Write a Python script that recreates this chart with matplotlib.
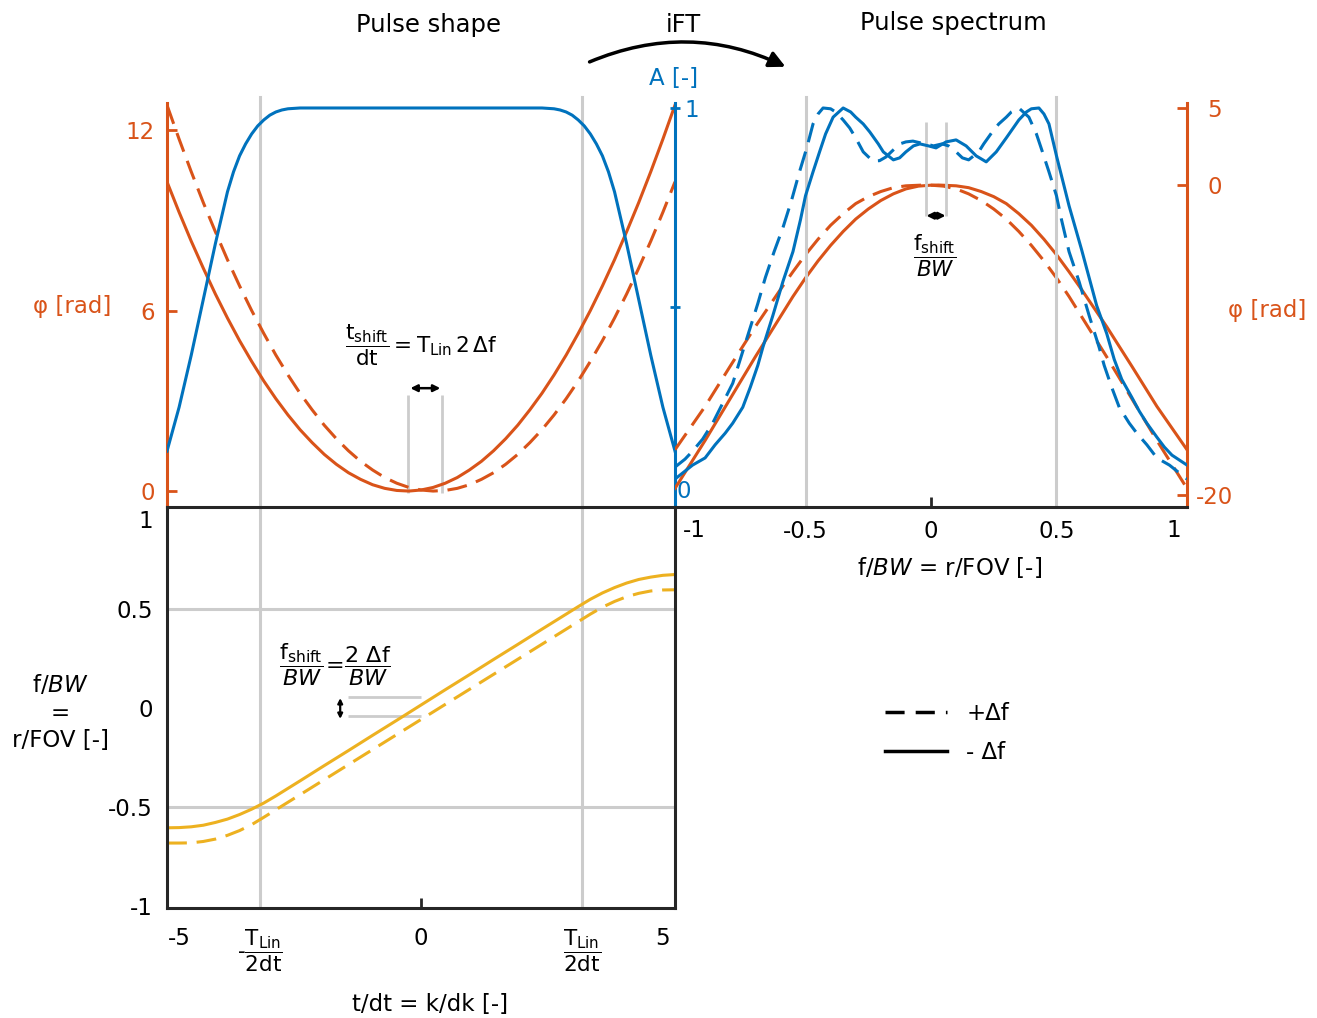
"""Chirp pulse: shape, spectrum and instantaneous frequency."""
import matplotlib
matplotlib.use("Agg")
import matplotlib.pyplot as plt
from matplotlib.lines import Line2D
from matplotlib.patches import FancyArrowPatch

plt.rcParams["font.family"] = ["DejaVu Sans"]
plt.rcParams["axes.unicode_minus"] = False
plt.rcParams["mathtext.fontset"] = "dejavusans"

BLUE, ORANGE, YELLOW = "#0072BD", "#D95319", "#EDB120"
GRAY, DARK = "#CCCCCC", "#262626"
DASH = (0, (6.5, 3.2))
LW = 2.2
FS = 16.5      # tick labels / axis labels
FS_EQ = 15.5   # fraction annotations
FS_T = 17.5    # titles

# ---- pulse shape (t/dt) ----
t_amp = [-5.25, -5.125, -5.0, -4.875, -4.75, -4.625, -4.5, -4.375, -4.25, -4.125, -4.0,
         -3.875, -3.75, -3.625, -3.5, -3.375, -3.25, -3.125, -3.0, -2.875, -2.75, -2.5,
         2.5, 2.75, 2.875, 3.0, 3.125, 3.25, 3.375, 3.5, 3.625, 3.75, 3.875, 4.0,
         4.125, 4.25, 4.375, 4.5, 4.625, 4.75, 4.875, 5.0, 5.125, 5.25]
amp = [0.14, 0.195, 0.25, 0.315, 0.38, 0.45, 0.52, 0.59, 0.66, 0.725, 0.79,
       0.84, 0.88, 0.91, 0.935, 0.955, 0.97, 0.982, 0.99, 0.995, 0.998, 1.0,
       1.0, 0.998, 0.995, 0.99, 0.982, 0.97, 0.955, 0.935, 0.91, 0.88, 0.84, 0.79,
       0.725, 0.66, 0.59, 0.52, 0.45, 0.38, 0.315, 0.25, 0.195, 0.14]
t_ph = [-5.25, -5.0, -4.75, -4.5, -4.25, -4.0, -3.75, -3.5, -3.25, -3.0, -2.75,
        -2.5, -2.25, -2.0, -1.75, -1.5, -1.25, -1.0, -0.75, -0.5, -0.25, 0.0,
        0.25, 0.5, 0.75, 1.0, 1.25, 1.5, 1.75, 2.0, 2.25, 2.5, 2.75, 3.0,
        3.25, 3.5, 3.75, 4.0, 4.25, 4.5, 4.75, 5.0, 5.25]
phase_minus = [10.28, 9.27, 8.31, 7.41, 6.55, 5.75, 5.00, 4.31, 3.66, 3.07, 2.53,
               2.04, 1.61, 1.22, 0.89, 0.61, 0.39, 0.21, 0.09, 0.02, 0.0, 0.035,
               0.12, 0.26, 0.45, 0.70, 0.99, 1.34, 1.74, 2.19, 2.70, 3.25, 3.86, 4.52,
               5.24, 6.00, 6.82, 7.69, 8.62, 9.59, 10.62, 11.70, 12.83]
phase_plus = [12.83, 11.70, 10.62, 9.59, 8.62, 7.69, 6.82, 6.00, 5.24, 4.52, 3.86,
              3.25, 2.70, 2.19, 1.74, 1.34, 0.99, 0.70, 0.45, 0.26, 0.12, 0.035,
              0.0, 0.02, 0.09, 0.21, 0.39, 0.61, 0.89, 1.22, 1.61, 2.04, 2.53, 3.07,
              3.66, 4.31, 5.00, 5.75, 6.55, 7.41, 8.31, 9.27, 10.28]
t_lin_half = 3.33            # T_Lin / (2 dt)
t_shift_marks = [-0.27, 0.43]

# ---- instantaneous frequency (f/BW) ----
t_freq = [-5.25, -5.0, -4.75, -4.5, -4.25, -4.0, -3.75, -3.5, -3.25, -3.0, -2.75, -2.5,
          -2.0, -1.5, -1.0, -0.5, 0.0, 0.5, 1.0, 1.5, 2.0, 2.5, 2.75, 3.0, 3.25,
          3.5, 3.75, 4.0, 4.25, 4.5, 4.75, 5.0, 5.25]
freq_minus = [-0.605, -0.604, -0.600, -0.592, -0.578, -0.561, -0.538, -0.511, -0.480, -0.444,
              -0.406, -0.368, -0.291, -0.215, -0.138, -0.062, 0.015, 0.092, 0.168, 0.245,
              0.321, 0.398, 0.436, 0.474, 0.512, 0.549, 0.581, 0.608, 0.631, 0.649,
              0.661, 0.670, 0.674]
freq_plus = [-0.682, -0.682, -0.681, -0.674, -0.662, -0.643, -0.619, -0.589, -0.552, -0.514,
             -0.476, -0.438, -0.362, -0.286, -0.21, -0.134, -0.058, 0.018, 0.094, 0.17,
             0.246, 0.322, 0.36, 0.398, 0.436, 0.474, 0.509, 0.538, 0.562, 0.579,
             0.591, 0.596, 0.597]
f_shift_marks = [0.056, -0.04]

# ---- pulse spectrum (f/BW) ----
f_amp_minus = [-1.02, -0.98, -0.95, -0.90, -0.86, -0.82, -0.79, -0.75, -0.72, -0.69,
               -0.67, -0.63, -0.59, -0.55, -0.52, -0.50, -0.47, -0.444, -0.42, -0.39,
               -0.35, -0.32, -0.30, -0.27, -0.244, -0.21, -0.19, -0.15, -0.125, -0.10,
               -0.07, -0.044, -0.01, 0.02, 0.06, 0.10, 0.14, 0.18, 0.22, 0.26,
               0.30, 0.35, 0.38, 0.40, 0.43, 0.45, 0.47, 0.50, 0.55, 0.60,
               0.63, 0.66, 0.70, 0.73, 0.76, 0.80, 0.83, 0.86, 0.90, 0.93, 0.96, 1.02]
amp_minus = [0.07, 0.09, 0.105, 0.123, 0.156, 0.185, 0.21, 0.25, 0.30, 0.355,
             0.40, 0.48, 0.565, 0.64, 0.72, 0.78, 0.84, 0.89, 0.935, 0.977,
             1.0, 0.99, 0.977, 0.96, 0.94, 0.91, 0.89, 0.87, 0.875, 0.89,
             0.905, 0.91, 0.905, 0.90, 0.915, 0.92, 0.905, 0.88, 0.865, 0.89,
             0.925, 0.97, 0.99, 0.998, 1.0, 0.985, 0.96, 0.88, 0.755, 0.645,
             0.575, 0.505, 0.435, 0.37, 0.32, 0.275, 0.24, 0.21, 0.175, 0.15, 0.13, 0.105]
f_amp_plus = [-1.02, -0.98, -0.95, -0.91, -0.87, -0.83, -0.79, -0.755, -0.72, -0.69,
              -0.66, -0.625, -0.59, -0.555, -0.524, -0.495, -0.47, -0.45, -0.43, -0.40,
              -0.38, -0.35, -0.324, -0.30, -0.27, -0.232, -0.205, -0.18, -0.15, -0.124,
              -0.10, -0.072, -0.045, -0.02, 0.01, 0.044, 0.07, 0.10, 0.125, 0.15,
              0.19, 0.21, 0.244, 0.27, 0.30, 0.32, 0.35, 0.39, 0.42, 0.444,
              0.47, 0.50, 0.52, 0.55, 0.59, 0.63, 0.67, 0.69, 0.72, 0.75,
              0.79, 0.82, 0.86, 0.90, 0.95, 0.98, 1.02]
amp_plus = [0.10, 0.12, 0.14, 0.17, 0.21, 0.26, 0.31, 0.38, 0.45, 0.51,
            0.575, 0.64, 0.70, 0.77, 0.84, 0.90, 0.96, 0.985, 1.0, 0.998,
            0.99, 0.97, 0.95, 0.925, 0.89, 0.867, 0.868, 0.877, 0.895, 0.91,
            0.915, 0.917, 0.913, 0.91, 0.905, 0.91, 0.905, 0.89, 0.875, 0.87,
            0.89, 0.91, 0.94, 0.96, 0.977, 0.99, 1.0, 0.977, 0.935, 0.89,
            0.84, 0.78, 0.72, 0.64, 0.565, 0.48, 0.40, 0.355, 0.30, 0.25,
            0.21, 0.185, 0.156, 0.123, 0.105, 0.09, 0.07]
f_ph_minus = [-1.02, -0.9, -0.8, -0.7, -0.6, -0.55, -0.5, -0.45, -0.4, -0.35, -0.3,
              -0.25, -0.2, -0.15, -0.1, -0.05, 0.0, 0.03, 0.1, 0.15, 0.2, 0.25,
              0.3, 0.35, 0.4, 0.45, 0.5, 0.55, 0.6, 0.7, 0.8, 0.9, 1.02]
spec_phase_minus = [-19.6, -16.5, -13.8, -11.1, -8.5, -7.2, -6.0, -4.9, -3.9, -3.0, -2.2,
                    -1.55, -1.0, -0.57, -0.25, -0.07, -0.01, 0.0, -0.05, -0.17, -0.42, -0.75,
                    -1.2, -1.85, -2.6, -3.5, -4.5, -5.6, -6.75, -9.15, -11.7, -14.3, -17.1]
f_ph_plus = [-1.02, -0.9, -0.8, -0.7, -0.6, -0.55, -0.5, -0.45, -0.4, -0.35, -0.3,
             -0.25, -0.2, -0.15, -0.1, -0.03, 0.0, 0.05, 0.1, 0.15, 0.2, 0.25,
             0.3, 0.35, 0.4, 0.45, 0.5, 0.55, 0.6, 0.7, 0.8, 0.9, 1.02]
spec_phase_plus = [-17.1, -14.3, -11.7, -9.15, -6.75, -5.6, -4.5, -3.5, -2.6, -1.85, -1.2,
                   -0.75, -0.42, -0.17, -0.05, 0.0, -0.01, -0.07, -0.25, -0.57, -1.0, -1.55,
                   -2.2, -3.0, -3.9, -4.9, -6.0, -7.2, -8.5, -11.1, -13.8, -16.5, -19.6]
f_shift_spec = [-0.02, 0.06]

W, H = 1317, 1018
fig = plt.figure(figsize=(W / 100, H / 100), dpi=100)


def box(x0, y0, x1, y1):
    return [x0 / W, 1 - y1 / H, (x1 - x0) / W, (y1 - y0) / H]


def hide(ax, names):
    for n in names:
        ax.spines[n].set_visible(False)


arrow_kw = dict(arrowstyle="<|-|>", color="k", lw=1.8, mutation_scale=10, shrinkA=0, shrinkB=0)

# ---------------- top left: pulse shape ----------------
ax_ph = fig.add_axes(box(167, 103, 675, 507))
ax_ph.set_xlim(-5.25, 5.25)
ax_ph.set_ylim(-0.53, 12.9)
for t in (-t_lin_half, t_lin_half):
    ax_ph.axvline(t, ymin=0, ymax=1.015, color=GRAY, lw=2.2, clip_on=False, zorder=0)
ax_ph.plot(t_ph, phase_minus, color=ORANGE, lw=LW)
ax_ph.plot(t_ph, phase_plus, color=ORANGE, lw=LW, ls=DASH)
ax_ph.vlines(t_shift_marks, -0.05, 3.2, color=GRAY, lw=2, zorder=1)
ax_ph.annotate("", xy=(0.40, 3.42), xytext=(-0.22, 3.42), arrowprops=arrow_kw)
ax_ph.text(0, 4.85, r"$\dfrac{\mathrm{t_{shift}}}{\mathrm{dt}} = \mathrm{T_{Lin}}\,\mathrm{2}\,\Delta\mathrm{f}$",
           ha="center", va="center", fontsize=FS_EQ)
hide(ax_ph, ["top", "right", "bottom"])
ax_ph.spines["left"].set_color(ORANGE)
ax_ph.spines["left"].set_linewidth(2.2)
ax_ph.set_xticks([])
ax_ph.set_yticks([0, 6, 12])
ax_ph.tick_params(axis="y", direction="in", length=7, width=2, color=ORANGE,
                  labelcolor=ORANGE, labelsize=FS, pad=9)
fig.text(72 / W, 1 - 307 / H, "φ [rad]", color=ORANGE, ha="center", va="center", fontsize=FS)

ax_amp = ax_ph.twinx()
ax_amp.set_ylim(0, 1.0125)
ax_amp.plot(t_amp, amp, color=BLUE, lw=LW)
hide(ax_amp, ["top", "left", "bottom"])
ax_amp.spines["right"].set_color(BLUE)
ax_amp.spines["right"].set_linewidth(2.2)
ax_amp.set_yticks([0.5, 1])
ax_amp.set_yticklabels(["", "1"])
ax_amp.tick_params(axis="y", direction="inout", length=7, width=2, color=BLUE,
                   labelcolor=BLUE, labelsize=FS, pad=3)
ax_amp.annotate("0", xy=(1, 0), xycoords=ax_amp.get_yaxis_transform(), xytext=(9, 15),
                textcoords="offset pixels", ha="center", va="center", color=BLUE, fontsize=FS)
fig.text(674 / W, 1 - 78 / H, "A [-]", color=BLUE, ha="center", va="center", fontsize=FS)

# ---------------- top right: pulse spectrum ----------------
ax_sa = fig.add_axes(box(675, 103, 1187, 507))
ax_sa.set_xlim(-1.02, 1.02)
ax_sa.set_ylim(0, 1.0125)
for f in (-0.5, 0.5):
    ax_sa.axvline(f, ymin=0, ymax=1.015, color=GRAY, lw=2.2, clip_on=False, zorder=0)
ax_sa.vlines(f_shift_spec, 0.73, 0.965, color=GRAY, lw=2, zorder=1)
ax_sa.plot(f_amp_minus, amp_minus, color=BLUE, lw=LW)
ax_sa.plot(f_amp_plus, amp_plus, color=BLUE, lw=LW, ls=DASH)
ax_sa.annotate("", xy=(0.058, 0.73), xytext=(-0.018, 0.73), arrowprops=arrow_kw)
ax_sa.text(0.016, 0.63, r"$\dfrac{\mathrm{f_{shift}}}{BW}$", ha="center", va="center", fontsize=FS_EQ)
hide(ax_sa, ["top", "left", "right"])
ax_sa.spines["bottom"].set_color(DARK)
ax_sa.spines["bottom"].set_linewidth(2.2)
ax_sa.set_yticks([])
ax_sa.set_xticks([-0.5, 0, 0.5])
ax_sa.set_xticklabels(["-0.5", "0", "0.5"])
ax_sa.xaxis.remove_overlapping_locs = False
ax_sa.set_xticks([0], minor=True)
ax_sa.tick_params(axis="x", which="major", length=0, labelsize=FS, pad=9)
ax_sa.tick_params(axis="x", which="minor", direction="in", length=7, width=2, color=DARK)
for val, dx in ((-1, 14), (1, -8)):
    ax_sa.annotate(str(val), xy=(val, 0), xycoords=("data", "axes fraction"), xytext=(dx, -12),
                   textcoords="offset pixels", ha="center", va="top", fontsize=FS)
fig.text(950 / W, 1 - 567 / H, "f/$BW$ = r/FOV [-]", ha="center", va="center", fontsize=FS)

ax_sp = ax_sa.twinx()
ax_sp.set_ylim(-20.8, 5.3)
ax_sp.plot(f_ph_minus, spec_phase_minus, color=ORANGE, lw=LW)
ax_sp.plot(f_ph_plus, spec_phase_plus, color=ORANGE, lw=LW, ls=DASH)
hide(ax_sp, ["top", "left", "bottom"])
ax_sp.spines["right"].set_color(ORANGE)
ax_sp.spines["right"].set_linewidth(2.2)
ax_sp.set_yticks([-20, 0, 5])
ax_sp.tick_params(axis="y", direction="in", length=7, width=2, color=ORANGE,
                  labelcolor=ORANGE, labelsize=FS, pad=20)
for lbl in ax_sp.get_yticklabels():
    lbl.set_horizontalalignment("center")
ax_sa.set_zorder(ax_sp.get_zorder() + 1)
ax_sa.patch.set_visible(False)
fig.text(1267 / W, 1 - 310 / H, "φ [rad]", color=ORANGE, ha="center", va="center", fontsize=FS)

# ---------------- bottom left: frequency ----------------
ax_f = fig.add_axes(box(167, 507, 675, 908))
ax_f.set_xlim(-5.25, 5.25)
ax_f.set_ylim(-1.01, 1.015)
for t in (-t_lin_half, t_lin_half):
    ax_f.axvline(t, color=GRAY, lw=2.2, zorder=0)
for f in (-0.5, 0.5):
    ax_f.axhline(f, xmax=0.994, color=GRAY, lw=2.2, zorder=0)
ax_f.plot(t_freq, freq_minus, color=YELLOW, lw=LW)
ax_f.plot(t_freq, freq_plus, color=YELLOW, lw=LW, ls=DASH)
ax_f.hlines(f_shift_marks, -1.5, 0.0, color=GRAY, lw=2, zorder=1)
ax_f.annotate("", xy=(-1.67, -0.055), xytext=(-1.67, 0.05),
              arrowprops=dict(arrow_kw, mutation_scale=7, lw=1.6))
ax_f.text(-1.78, 0.217, r"$\dfrac{\mathrm{f_{shift}}}{BW}\!=\!\dfrac{\mathrm{2\ \Delta f}}{BW}$",
          ha="center", va="center", fontsize=FS_EQ + 0.5)
for s in ax_f.spines.values():
    s.set_color(DARK)
    s.set_linewidth(2.2)
ax_f.set_yticks([-1, -0.5, 0, 0.5, 1])
ax_f.set_yticklabels(["-1", "-0.5", "0", "0.5", "1"])
ax_f.tick_params(axis="y", length=0, labelsize=FS, pad=10)
ax_f.set_xticks([-5, -t_lin_half, 0, t_lin_half, 5])
ax_f.set_xticklabels(["-5", r"-$\dfrac{\mathrm{T_{Lin}}}{\mathrm{2dt}}$", "0",
                      r"$\dfrac{\mathrm{T_{Lin}}}{\mathrm{2dt}}$", "5"])
ax_f.xaxis.remove_overlapping_locs = False
ax_f.set_xticks([0], minor=True)
ax_f.tick_params(axis="x", which="major", length=0, labelsize=FS, pad=14)
ax_f.tick_params(axis="x", which="minor", direction="in", length=7, width=2, color=DARK)
for lbl in ax_f.get_xticklabels():
    if "Lin" in lbl.get_text():
        lbl.set_fontsize(FS_EQ)
for lbl in ax_f.get_yticklabels():
    if lbl.get_text() == "1":
        lbl.set_verticalalignment("top")
fig.text(430 / W, 1 - 1005 / H, "t/dt = k/dk [-]", ha="center", va="center", fontsize=FS)
fig.text(60 / W, 1 - 713 / H, "f/$BW$\n=\nr/FOV [-]", ha="center", va="center",
         fontsize=FS, linespacing=1.25)

# ---------------- titles, iFT arrow, legend ----------------
fig.text(428 / W, 1 - 25 / H, "Pulse shape", ha="center", va="center", fontsize=FS_T)
fig.text(683 / W, 1 - 25 / H, "iFT", ha="center", va="center", fontsize=FS_T)
fig.text(953 / W, 1 - 23 / H, "Pulse spectrum", ha="center", va="center", fontsize=FS_T)
fig.add_artist(FancyArrowPatch(posA=(587 / W, 1 - 63 / H), posB=(788 / W, 1 - 68 / H),
                               transform=fig.transFigure, connectionstyle="arc3,rad=-0.23",
                               arrowstyle="-|>", mutation_scale=24, lw=2.5, color="k"))

handles = [Line2D([], [], color="k", lw=2.5, ls=(0, (5.5, 3.2))),
           Line2D([], [], color="k", lw=2.5)]
fig.legend(handles, ["+Δf", "- Δf"], loc="center left", bbox_to_anchor=(885 / W, 1 - 733 / H),
           frameon=False, fontsize=FS, handlelength=2.7, handletextpad=0.85,
           labelspacing=0.7, borderpad=0, borderaxespad=0)

fig.savefig("out.png", dpi=100)
plt.close(fig)
